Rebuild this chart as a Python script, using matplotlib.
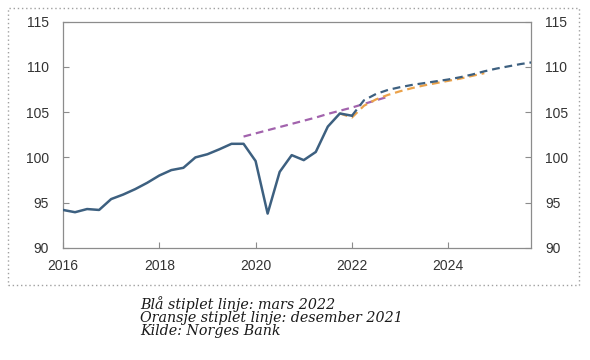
import matplotlib.pyplot as plt
from matplotlib.patches import Rectangle

# quarterly positions, 2016Q1 = 2016.0
hist_x = [2016 + i * 0.25 for i in range(25)]  # 2016Q1 - 2022Q1
hist_y = [94.2, 93.95, 94.3, 94.2,
          95.4, 95.9, 96.5, 97.2,
          98.0, 98.6, 98.85, 100.0,
          100.35, 100.9, 101.5, 101.5,
          99.6, 93.8, 98.4, 100.25,
          99.7, 100.6, 103.4, 104.85,
          104.6]

# blue dashed: projection March 2022
mar22_x = [2022 + i * 0.25 for i in range(16)]  # 2022Q1 - 2025Q4
mar22_y = [104.6, 106.3, 107.0, 107.45,
           107.75, 108.0, 108.2, 108.4,
           108.6, 108.85, 109.15, 109.5,
           109.8, 110.05, 110.3, 110.5]

# orange dashed: projection December 2021
dec21_x = [2021.75 + i * 0.25 for i in range(13)]  # 2021Q4 - 2024Q4
dec21_y = [104.85, 104.4, 105.7, 106.4,
           106.9, 107.3, 107.65, 107.95,
           108.2, 108.45, 108.7, 109.0, 109.3]

# purple dashed: trend from before the pandemic
trend_x = [2019.75 + i * 0.25 for i in range(13)]  # 2019Q4 - 2022Q4
trend_y = [102.3, 102.65, 103.0, 103.35,
           103.7, 104.05, 104.4, 104.8,
           105.15, 105.5, 105.9, 106.3, 106.7]

x_ticks = [2016, 2018, 2020, 2022, 2024]
y_ticks = [90, 95, 100, 105, 110, 115]

caption = ["Blå stiplet linje: mars 2022",
           "Oransje stiplet linje: desember 2021",
           "Kilde: Norges Bank"]

BLUE = "#3d6080"
ORANGE = "#eba24a"
PURPLE = "#a263ad"
DASH = (3.5, 2.2)

plt.rcParams["font.family"] = ["Liberation Sans", "DejaVu Sans"]

fig = plt.figure(figsize=(5.9, 3.6), dpi=100)
ax = fig.add_axes([63 / 590, 1 - 248 / 360, (531 - 63) / 590, (248 - 21.5) / 360])

ax.plot(trend_x, trend_y, color=PURPLE, lw=1.6, dashes=DASH, zorder=2)
ax.plot(dec21_x, dec21_y, color=ORANGE, lw=1.6, dashes=DASH, zorder=3)
ax.plot(mar22_x, mar22_y, color=BLUE, lw=1.6, dashes=DASH, zorder=4)
ax.plot(hist_x, hist_y, color=BLUE, lw=1.8, zorder=5)

ax.set_xlim(2016, 2025.72)
ax.set_ylim(90, 115)
ax.set_xticks(x_ticks)
ax.set_yticks(y_ticks)

for s in ax.spines.values():
    s.set_color("#8c8c8c")
    s.set_linewidth(0.9)

ax.tick_params(axis="both", direction="in", length=4, color="#8c8c8c",
               labelsize=10, labelcolor="#333333")
ax.tick_params(axis="y", right=True, labelright=True, pad=10)
ax.tick_params(axis="x", pad=8)

# dotted frame round the chart
fig.patches.append(Rectangle((8 / 590, 1 - 285 / 360), (579 - 8) / 590, (285 - 8) / 360,
                             transform=fig.transFigure, fill=False,
                             edgecolor="#a0a0a0", linestyle=(0, (1, 2)), lw=1.0))

fig.text(140 / 590, 1 - 296 / 360, "\n".join(caption), family="DejaVu Serif",
         style="italic", fontsize=10.3, color="#1a1a1a", va="top", ha="left",
         linespacing=0.9)

fig.savefig("out.png", dpi=100)
